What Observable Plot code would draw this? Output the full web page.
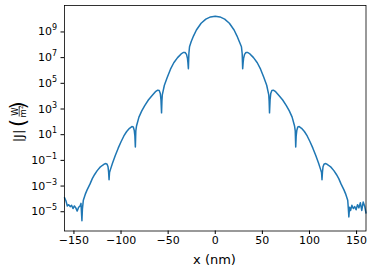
<!DOCTYPE html>
<html><head><meta charset="utf-8">
<script src="https://cdn.jsdelivr.net/npm/d3@7"></script>
<script src="https://cdn.jsdelivr.net/npm/@observablehq/plot@0.6"></script>
<style>
html,body{margin:0;padding:0;background:#fff;}
svg{font-family:"DejaVu Sans",sans-serif;}
</style></head><body><div id="chart"></div>
<script>
// x positions (nm) and log10 of |J| (W/m^2)
const xNm = [
 -160,-158.5,-157,-155.5,-154,-152.5,-151,-149.5,-148,-146.5,-145,-143.5,-142.5,-141.5,
 -141,-140,-138,-136,-133,-130.5,-128,-125.3,-122.5,-120,-117.5,-116,-114.8,-113.8,-113.2,-112.7,
 -112.2,-111.2,-109,-106,-103,-100,-97,-94,-91,-88.5,-87,-86,-85.3,-84.8,
 -84.3,-83.5,-81,-78,-75,-71,-67,-63.5,-61,-59.5,-58.3,-57.6,-57,
 -56.6,-56.2,-54,-51,-47.5,-44,-40,-36.5,-34,-32,-30.5,-29.5,-29,-28.5,
 -28,-27.3,-25.5,-23,-20,-15,-10,-5,0,
 5,10,15,20,23,25.5,27.8,28.6,
 29.1,29.6,30.1,31.1,32.6,34.6,37.1,40.6,44.6,48.1,51.6,54.6,56.8,57.2,
 57.6,58.2,58.9,60.1,61.6,64.1,67.6,71.6,75.6,78.6,81.6,84.1,84.9,
 85.4,85.9,86.6,87.6,89.1,91.6,94.6,97.6,100.6,103.6,106.6,109.6,111.8,112.8,
 113.3,113.8,114.4,115.4,116.6,118.1,120.6,123.1,125.9,128.6,131.1,133.6,136.6,138.6,140.6,141.3,
 141.8,142.6,143.6,145,146.5,148,149.5,151,152.5,154,155.5,157,158.5,160
];
const logJ = [
 -3.9,-4.15,-4.55,-4.45,-4.6,-4.5,-4.75,-4.55,-4.7,-4.95,-4.65,-4.55,-4.35,-5.7,
 -4.8,-4.1,-3.65,-3.3,-2.85,-2.42,-2.1,-1.8,-1.55,-1.4,-1.28,-1.25,-1.3,-1.5,-1.9,-2.5,
 -1.95,-1.7,-1.2,-0.6,-0.05,0.45,0.9,1.25,1.5,1.63,1.6,1.35,0.9,0.04,
 1.3,1.7,2.37,2.85,3.25,3.7,4.05,4.35,4.47,4.45,4.2,3.7,2.7,
 3.6,4.1,4.85,5.45,6.1,6.6,7.0,7.27,7.4,7.4,7.25,6.95,6.6,6.14,
 7.3,7.85,8.25,8.7,9.15,9.68,10.0,10.17,10.22,
 10.17,10.0,9.68,9.15,8.7,8.25,7.85,7.3,
 6.14,6.6,6.95,7.25,7.4,7.4,7.27,7.0,6.6,6.1,5.45,4.85,4.1,3.6,
 2.7,3.7,4.2,4.45,4.47,4.35,4.05,3.7,3.25,2.85,2.37,1.7,1.3,
 0.04,0.9,1.35,1.6,1.63,1.5,1.25,0.9,0.45,-0.05,-0.6,-1.2,-1.7,-1.95,
 -2.5,-1.9,-1.5,-1.3,-1.25,-1.28,-1.4,-1.55,-1.8,-2.1,-2.42,-2.85,-3.3,-3.65,-4.1,-4.8,
 -5.4,-4.65,-4.9,-4.5,-4.75,-4.6,-4.85,-4.45,-4.7,-4.3,-4.9,-4.25,-4.55,-5.1
];
const yTickExps = [-5,-3,-1,1,3,5,7,9];
const xTicks = [-150,-100,-50,0,50,100,150];

const data = xNm.map((x,i)=>({x, j: Math.pow(10, logJ[i])}));

const W = 374, H = 271;
const plot = Plot.plot({
  width: W, height: H,
  marginLeft: 64, marginRight: 8.5, marginTop: 5, marginBottom: 40.5,
  style: {fontFamily: "DejaVu Sans, sans-serif", fontSize: "11px", color: "#000", background: "#fff"},
  x: {domain: [-160, 160], ticks: xTicks, label: null},
  y: {type: "log", domain: [Math.pow(10,-6.5), Math.pow(10,11.06)], ticks: yTickExps.map(e=>Math.pow(10,e)), label: null},
  marks: [
    Plot.line(data, {x: "x", y: "j", stroke: "#1f77b4", strokeWidth: 1.5, strokeLinejoin: "round"}),
    Plot.frame({stroke: "#000", strokeWidth: 0.8}),
    Plot.axisX({ticks: xTicks, tickSize: 3.5, tickPadding: 2, fontSize: 11, label: null, tickFormat: d => d3.format("d")(d).replace("-", "\u2212")}),
    Plot.axisY({ticks: yTickExps.map(e=>Math.pow(10,e)), tickSize: 3.5, tickFormat: () => "", label: null})
  ]
});
document.getElementById("chart").appendChild(plot);

const svg = d3.select(plot);
const ys = plot.scale("y");
// y tick labels 10^n with superscripts
const g = svg.append("g").attr("font-family", "DejaVu Sans, sans-serif").attr("fill", "#000");
yTickExps.forEach(e => {
  const yy = ys.apply(Math.pow(10, e));
  const t = g.append("text").attr("x", 57).attr("y", yy + 4).attr("text-anchor", "end").attr("font-size", 11);
  t.append("tspan").text("10");
  t.append("tspan").attr("font-size", 8).attr("dy", -5).text(e < 0 ? "\u2212" + Math.abs(e) : String(e));
});
// x axis label
svg.append("text").attr("x", 214.5).attr("y", 264).attr("text-anchor", "middle")
  .attr("font-size", 13).attr("font-family", "DejaVu Sans, sans-serif").text("x (nm)");
// y axis label |J|(W/m²)
const yl = svg.append("g").attr("transform", "translate(17,116) rotate(-90)")
  .attr("font-family", "DejaVu Sans, sans-serif").attr("fill", "#000");
yl.append("text").attr("x", -20).attr("y", 6).attr("font-size", 13).text("|J|");
yl.append("text").attr("x", -7).attr("y", 8).attr("font-size", 21).text("(");
yl.append("text").attr("x", 4.5).attr("y", 0.5).attr("font-size", 8.5).attr("text-anchor", "middle").text("W");
yl.append("line").attr("x1", -0.5).attr("x2", 10).attr("y1", 2.2).attr("y2", 2.2).attr("stroke", "#000").attr("stroke-width", 0.7);
const den = yl.append("text").attr("x", 4.5).attr("y", 9).attr("font-size", 8.5).attr("text-anchor", "middle");
den.append("tspan").text("m");
den.append("tspan").attr("font-size", 5.5).attr("dy", -3).text("2");
yl.append("text").attr("x", 10.5).attr("y", 8).attr("font-size", 21).text(")");
</script></body></html>
